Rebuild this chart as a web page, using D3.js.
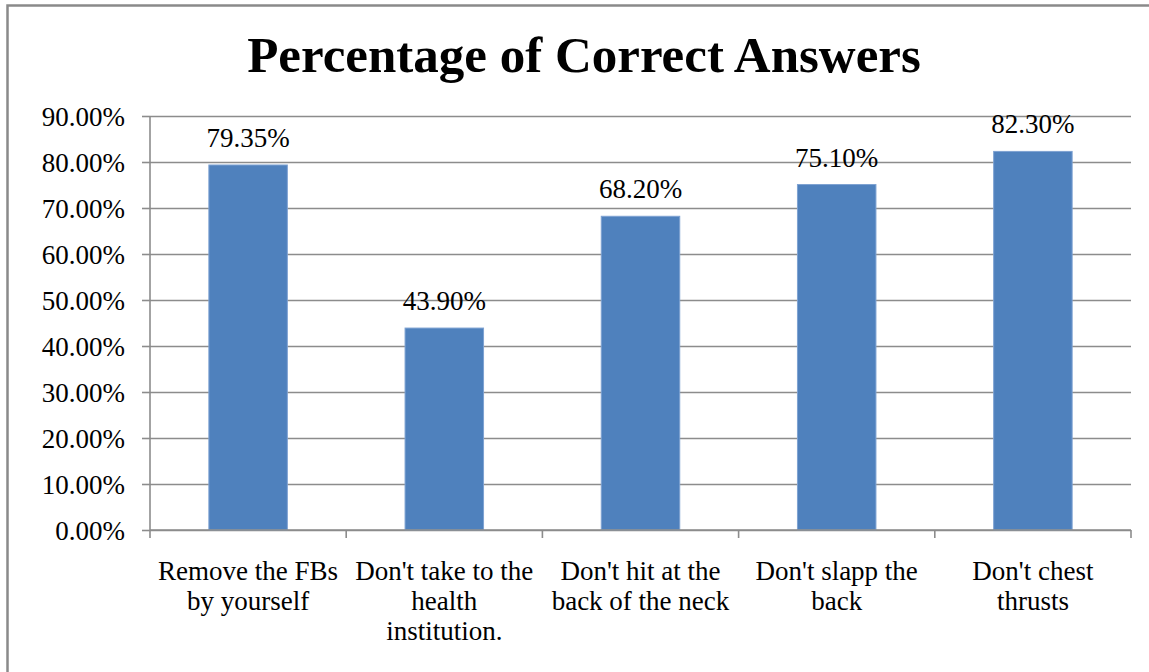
<!DOCTYPE html>
<html>
<head>
<meta charset="utf-8">
<script src="https://cdn.jsdelivr.net/npm/d3@7"></script>
<style>
  html, body { margin: 0; padding: 0; background: #fff; }
  svg { display: block; }
  text { font-family: "Liberation Serif", "Times New Roman", serif; fill: #000; }
</style>
</head>
<body>
<svg id="chart" width="1149" height="672"></svg>
<script>
const categories = [
  ["Remove the FBs", "by yourself"],
  ["Don't take to the", "health", "institution."],
  ["Don't hit at the", "back of the neck"],
  ["Don't slapp the", "back"],
  ["Don't chest", "thrusts"]
];
const values = [79.35, 43.90, 68.20, 75.10, 82.30];
const yTicks = [0, 10, 20, 30, 40, 50, 60, 70, 80, 90];
const title = "Percentage of Correct Answers";

(function () {
const svg = d3.select("#chart");
const W = 1149, H = 672;

// outer chart border
svg.append("rect")
  .attr("x", 7.5).attr("y", 5.5)
  .attr("width", W + 10).attr("height", H + 10)
  .attr("fill", "#fff")
  .attr("stroke", "#8a8a8a").attr("stroke-width", 2.5);

const pLeft = 150, pRight = 1131, pTop = 116, pBottom = 530;
const idx = categories.map((d, i) => i);

const x = d3.scaleBand().domain(idx).range([pLeft, pRight])
  .paddingInner(0.6).paddingOuter(0.3);
const y = d3.scaleLinear().domain([0, 90]).range([pBottom, pTop]);

// gridlines + y axis
const yAxis = d3.axisLeft(y).tickValues(yTicks)
  .tickSize(-(pRight - pLeft))
  .tickFormat(d => d3.format(".2f")(d) + "%");
const gy = svg.append("g").attr("transform", `translate(${pLeft},0)`).call(yAxis);
gy.select(".domain").remove();
gy.selectAll(".tick line").attr("stroke", "#8c8c8c").attr("stroke-width", 1.6);
gy.selectAll(".tick text").attr("x", -25).attr("dy", "0.34em")
  .style("font-size", "27px").style("font-family", "Liberation Serif").attr("fill", "#000");
gy.selectAll(".tick").append("line")
  .attr("x1", -8).attr("x2", 0)
  .attr("stroke", "#8c8c8c").attr("stroke-width", 1.6);

// y axis line
svg.append("line")
  .attr("x1", pLeft).attr("x2", pLeft).attr("y1", pTop).attr("y2", pBottom)
  .attr("stroke", "#8c8c8c").attr("stroke-width", 1.6);

// bars
svg.append("g").selectAll("rect").data(values).join("rect")
  .attr("x", (d, i) => x(i))
  .attr("y", d => y(d))
  .attr("width", x.bandwidth())
  .attr("height", d => y(0) - y(d))
  .attr("fill", "#4f81bd")
  .attr("stroke", "#7ea2d2").attr("stroke-width", 1);

// x axis line and category ticks
svg.append("line")
  .attr("x1", pLeft).attr("x2", pRight).attr("y1", pBottom).attr("y2", pBottom)
  .attr("stroke", "#8c8c8c").attr("stroke-width", 1.6);
const step = x.step();
const boundaries = d3.range(categories.length + 1).map(i => pLeft + i * step);
svg.append("g").selectAll("line").data(boundaries).join("line")
  .attr("x1", d => d).attr("x2", d => d)
  .attr("y1", pBottom).attr("y2", pBottom + 8)
  .attr("stroke", "#8c8c8c").attr("stroke-width", 1.6);

// category labels
const gl = svg.append("g");
categories.forEach((lines, i) => {
  const cx = x(i) + x.bandwidth() / 2;
  const t = gl.append("text")
    .attr("text-anchor", "middle")
    .attr("x", cx)
    .attr("y", 580)
    .style("font-size", "27px");
  lines.forEach((ln, j) => {
    t.append("tspan").attr("x", cx)
      .attr("dy", j === 0 ? 0 : 30).text(ln);
  });
});

// data labels
svg.append("g").selectAll("text").data(values).join("text")
  .attr("text-anchor", "middle")
  .attr("x", (d, i) => x(i) + x.bandwidth() / 2)
  .attr("y", d => y(d) - 18)
  .style("font-size", "27px")
  .text(d => d3.format(".2f")(d) + "%");

// title
svg.append("text")
  .attr("x", 584).attr("y", 72)
  .attr("text-anchor", "middle")
  .style("font-size", "51px").style("font-weight", "bold")
  .text(title);
})();
</script>
</body>
</html>
